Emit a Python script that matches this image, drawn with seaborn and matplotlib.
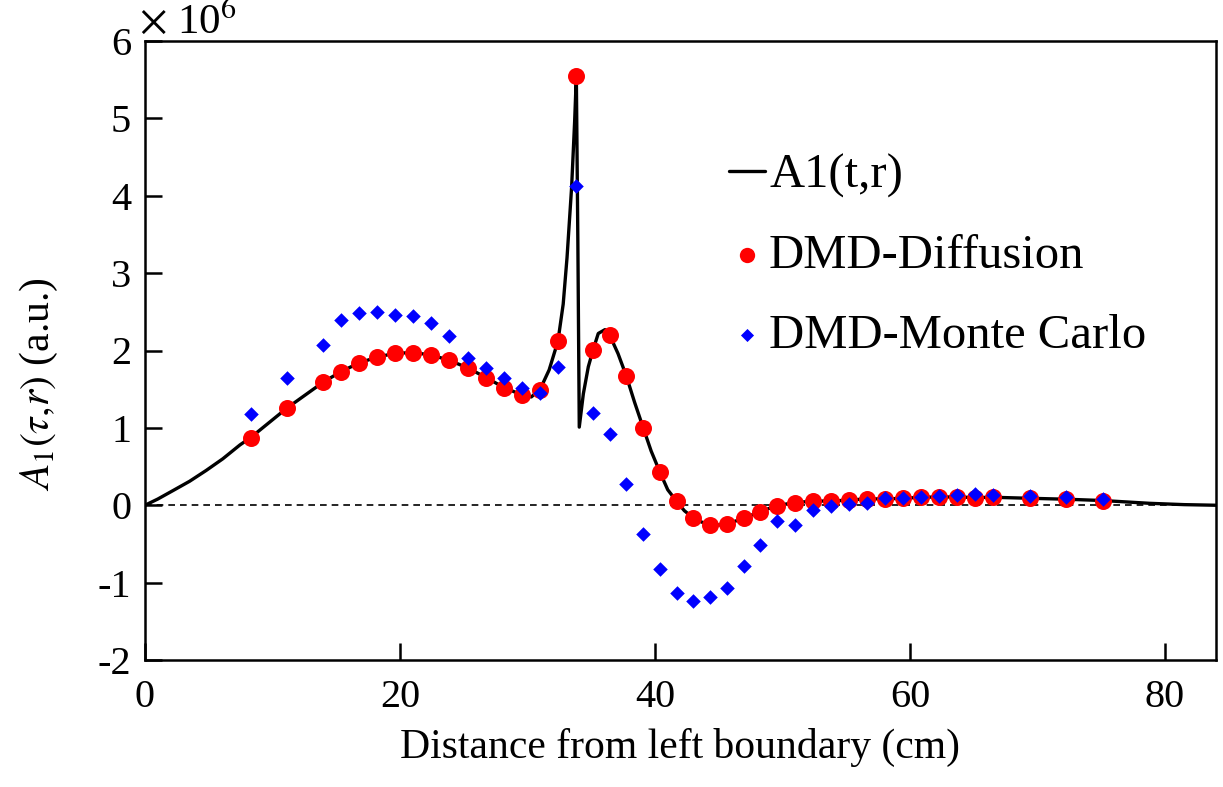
import matplotlib
matplotlib.use("Agg")
import matplotlib.pyplot as plt
import seaborn as sns
import numpy as np
import pandas as pd

# ---- data (values in units of 1e6) ----
pt_x = [8.29, 11.11, 13.96, 15.37, 16.78, 18.22, 19.63, 21.04, 22.45, 23.87,
        25.33, 26.75, 28.16, 29.57, 30.98, 32.39, 33.83, 35.14, 36.45, 37.75,
        39.08, 40.39, 41.70, 43.00, 44.34, 45.65, 46.96, 48.26, 49.59, 50.96,
        52.37, 53.78, 55.19, 56.60, 58.04, 59.47, 60.89, 62.30, 63.71, 65.12,
        66.53, 69.41, 72.26, 75.11]

diffusion = [0.875, 1.253, 1.589, 1.727, 1.838, 1.916, 1.964, 1.973, 1.942, 1.873,
             1.774, 1.650, 1.521, 1.425, 1.495, 2.123, 5.552, 2.006, 2.196, 1.671,
             0.999, 0.426, 0.050, -0.164, -0.249, -0.242, -0.168, -0.081, -0.004, 0.035,
             0.052, 0.056, 0.065, 0.084, 0.081, 0.090, 0.103, 0.107, 0.107, 0.099,
             0.103, 0.090, 0.078, 0.061]

monte_carlo = [1.18, 1.64, 2.07, 2.39, 2.48, 2.50, 2.46, 2.45, 2.36, 2.19,
               1.90, 1.78, 1.64, 1.52, 1.45, 1.79, 4.13, 1.19, 0.92, 0.28,
               -0.37, -0.82, -1.14, -1.24, -1.18, -1.07, -0.78, -0.52, -0.21, -0.25,
               -0.06, -0.01, 0.02, 0.03, 0.094, 0.099, 0.112, 0.120, 0.133, 0.146,
               0.138, 0.125, 0.107, 0.081]

line_x = [0.0, 1.0, 2.2, 3.5, 4.8, 6.1, 7.45, 8.29, 11.11, 13.96, 15.37, 16.78,
          18.22, 19.63, 21.04, 22.45, 23.87, 25.33, 26.75, 28.16, 29.57, 30.3,
          30.98, 31.7, 32.39, 32.8, 33.1, 33.46, 33.7, 33.83, 33.95, 34.06, 34.38,
          34.77, 35.14, 35.55, 36.08, 36.45, 37.1, 37.75, 38.4, 39.08, 39.7, 40.39,
          41.0, 41.70, 42.3, 43.00, 43.7, 44.34, 45.0, 45.65, 46.96, 48.26, 49.59,
          50.96, 52.37, 53.78, 55.19, 56.60, 58.04, 59.47, 60.89, 62.30, 63.71,
          65.12, 66.53, 69.41, 72.26, 75.11, 78.8, 81.5, 84.0]
line_y = [0.0, 0.08, 0.19, 0.31, 0.45, 0.60, 0.78, 0.875, 1.253, 1.589, 1.727, 1.838,
          1.916, 1.964, 1.973, 1.942, 1.873, 1.774, 1.650, 1.521, 1.425, 1.40,
          1.495, 1.75, 2.123, 2.60, 3.20, 4.11, 4.97, 5.552, 3.40, 1.01, 1.44,
          1.79, 2.006, 2.22, 2.27, 2.196, 1.96, 1.671, 1.33, 0.999, 0.70, 0.426,
          0.20, 0.050, -0.07, -0.164, -0.22, -0.249, -0.255, -0.242, -0.168, -0.081, -0.004,
          0.035, 0.052, 0.056, 0.065, 0.084, 0.081, 0.090, 0.103, 0.107, 0.107,
          0.099, 0.103, 0.090, 0.078, 0.061, 0.025, 0.008, 0.0]

xticks = [0, 20, 40, 60, 80]
yticks = [-2, -1, 0, 1, 2, 3, 4, 5, 6]

# ---- style ----
sns.set_theme(style="ticks")
plt.rcParams['font.family'] = ['Liberation Serif', 'DejaVu Serif']
plt.rcParams['mathtext.fontset'] = 'stix'
plt.rcParams['axes.unicode_minus'] = False
plt.rcParams['xtick.direction'] = 'in'
plt.rcParams['ytick.direction'] = 'in'

fig = plt.figure(figsize=(12.23, 7.87), dpi=100)
ax = fig.add_axes([145 / 1223, 1 - 660 / 787, (1216 - 145) / 1223, (660 - 41) / 787])

ax.axhline(0, color='black', lw=1.2, ls=(0, (4, 3)), zorder=1)

df_line = pd.DataFrame({'x': line_x, 'y': line_y})
sns.lineplot(data=df_line, x='x', y='y', sort=False, estimator=None, ax=ax,
             color='black', lw=2.4, label='A1(t,r)', zorder=2)

df_pts = pd.DataFrame({'x': pt_x, 'diff': diffusion, 'mc': monte_carlo})
sns.scatterplot(data=df_pts, x='x', y='diff', ax=ax, color='#ff0000', marker='o',
                s=150, linewidth=0, label='DMD-Diffusion', zorder=3)
sns.scatterplot(data=df_pts, x='x', y='mc', ax=ax, color='#0000ff', marker='D',
                s=55, linewidth=0, label='DMD-Monte Carlo', zorder=4)

ax.set_xlim(0, 84)
ax.set_ylim(-2, 6)
ax.set_xticks(xticks)
ax.set_yticks(yticks)
ax.tick_params(axis='both', labelsize=29, length=12, width=1.8, colors='black',
               pad=10)
ax.tick_params(axis='x', pad=14)
for sp in ax.spines.values():
    sp.set_visible(True)
    sp.set_linewidth(1.8)
    sp.set_color('black')

ax.set_xlabel('Distance from left boundary (cm)', fontsize=30, color='black', labelpad=8)
ax.set_ylabel(r'$A_1(\tau{,}r)$ (a.u.)', fontsize=30, color='black')
ax.yaxis.set_label_coords(-0.079, 0.445)

fig.text(139 / 1223, 1 - 22 / 787, r'$\times$ 10$^{6}$', fontsize=31,
         va='center', ha='left', color='black')

leg = ax.legend(loc='upper left', bbox_to_anchor=(0.545, 0.818), frameon=False,
                fontsize=35, handlelength=0.75, handletextpad=0.08,
                labelspacing=0.74, borderpad=0, borderaxespad=0, markerscale=0.9)
for t in leg.get_texts():
    t.set_color('black')

fig.savefig('out.png', dpi=100)
